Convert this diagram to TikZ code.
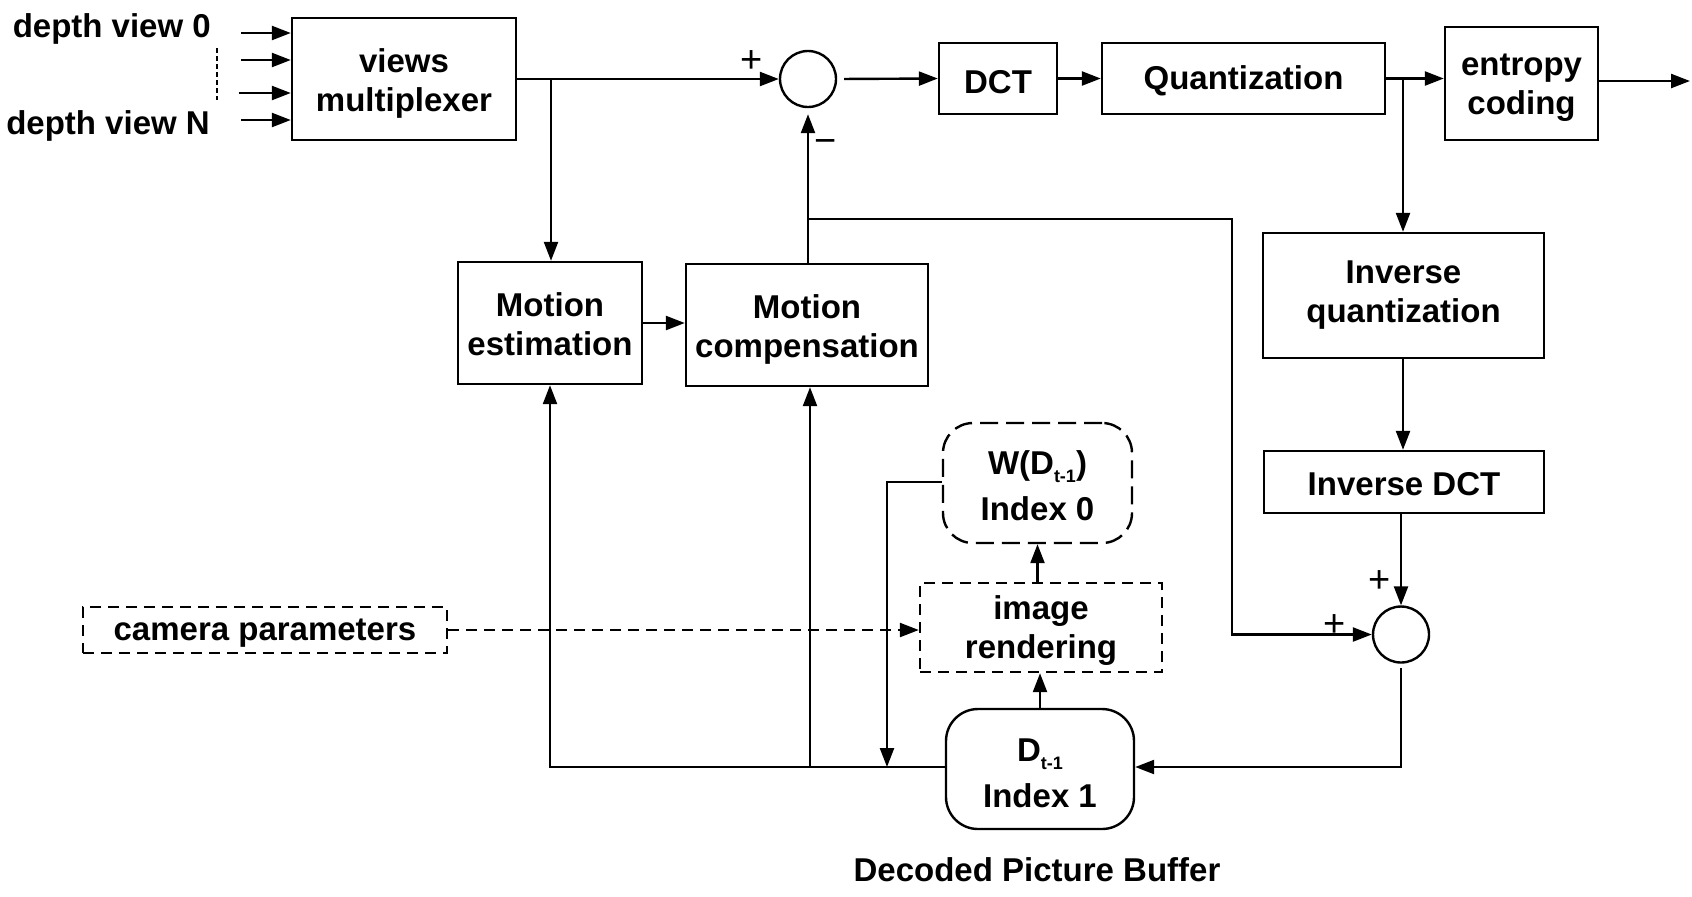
\documentclass[tikz,border=0pt]{standalone}
\usepackage{fontspec}
\setmainfont{Liberation Sans}
\usetikzlibrary{arrows.meta}
\begin{document}
\begin{tikzpicture}[x=0.5pt,y=-0.5pt,line width=1.2pt,
  every node/.style={font=\fontsize{16.5}{19.5}\selectfont\bfseries},
  blk/.style={draw,rectangle,inner sep=0pt},
  tx/.style={align=center,inner sep=0pt},
  sumc/.style={draw,circle,minimum size=28pt,inner sep=0pt},
  sgn/.style={font=\fontsize{19}{19}\selectfont,inner sep=0pt},
  arr/.style={-{Triangle[length=9.5pt,width=7pt]}},
  dashA/.style={dash pattern=on 5.5pt off 3.5pt},
  dashB/.style={dash pattern=on 9pt off 4pt}]
\newcommand\btext[3]{\node[tx] (#1t) at ([yshift=-#2]#1.center) {#3};}
\newcommand\subt{\raisebox{-4pt}{\fontsize{9}{9}\selectfont t-1}}
\useasboundingbox (0,0) rectangle (1692,896);
% blocks
\node[blk,minimum width=112pt,minimum height=61pt] (mux) at (404,79) {};
\node[sumc] (s1) at (808,79) {};
\node[blk,minimum width=59pt,minimum height=35.5pt] (dct) at (998,78.5) {};
\node[blk,minimum width=141.5pt,minimum height=35.5pt] (q) at (1243.5,78.5) {};
\node[blk,minimum width=76.5pt,minimum height=56.5pt] (ent) at (1521.5,83.5) {};
\node[blk,minimum width=140.5pt,minimum height=62.5pt] (iq) at (1403.5,295.5) {};
\node[blk,minimum width=140pt,minimum height=31pt] (idct) at (1404,482) {};
\node[sumc] (s2) at (1401,634.5) {};
\node[blk,minimum width=92pt,minimum height=61pt] (me) at (550,323) {};
\node[blk,minimum width=121pt,minimum height=61pt] (mc) at (807,325) {};
\node[blk,dashB,rounded corners=15pt,minimum width=94.5pt,minimum height=60pt] (w) at (1037.5,483) {};
\node[blk,dashA,minimum width=121pt,minimum height=44.5pt] (ir) at (1041,627.5) {};
\node[blk,rounded corners=16pt,minimum width=94pt,minimum height=60pt] (db) at (1040,769) {};
\node[blk,dashA,minimum width=182pt,minimum height=23pt] (cam) at (265,630) {};
% block texts
\btext{mux}{2.4pt}{views\\multiplexer}
\btext{dct}{1.6pt}{DCT}
\btext{q}{1.2pt}{Quantization}
\btext{ent}{2.2pt}{entropy\\coding}
\btext{iq}{0pt}{Inverse\\quantization}
\btext{idct}{1.3pt}{Inverse DCT}
\btext{me}{0.5pt}{Motion\\estimation}
\btext{mc}{2.1pt}{Motion\\compensation}
\btext{w}{1.5pt}{W(D\subt)\\[3.5pt]Index 0}
\btext{ir}{1.3pt}{image\\rendering}
\btext{db}{2pt}{D\subt\\[3.5pt]Index 1}
\btext{cam}{1.5pt}{camera parameters}
% free texts
\node[anchor=base east,inner sep=0pt] (dv0) at (212,37) {depth view 0};
\node[anchor=base east,inner sep=0pt] (dvn) at (211,134) {depth view N};
\node[anchor=base,inner sep=0pt] (dpb) at (1037,881) {Decoded Picture Buffer};
\node[sgn] (p1) at (752,62) {+};
\node[sgn] (m1) at (826,146) {−};
\node[sgn] (p2) at (1380,582) {+};
\node[sgn] (p3) at (1335,626) {+};
% inputs
\coordinate (i1) at (241,33);
\coordinate (i2) at (241,60);
\coordinate (i3) at (239,93);
\coordinate (i4) at (241,120);
\foreach \i in {i1,i2,i3,i4} \draw[arr] (\i) -- (\i -| mux.west);
\draw[dash pattern=on 2.5pt off 1.5pt] (217,48) -- (217,100);
% forward path
\coordinate (j1) at (551,79);
\draw[arr] (mux.east) -- (s1.west);
\draw[arr] (j1) -- (j1 |- me.north);
\draw[arr,shorten <=3.5pt] (s1.east) -- (dct.west);
\draw[arr] (dct.east) -- (q.west);
\draw[arr] (q.east) -- (q.east -| ent.west);
\coordinate (out) at (1690,81);
\draw[arr] (ent.east |- out) -- (out);
\coordinate (j2) at (1403,79);
\draw[arr] (j2) -- (j2 |- iq.north);
\draw[arr] (iq.south -| j2) -- (idct.north -| j2);
\draw[arr] (idct.south -| s2.north) -- (s2.north);
\draw[arr] (me.east) -- (me.east -| mc.west);
\draw[arr,shorten >=3pt] (s1.south |- mc.north) -- (s1.south);
% feedback
\coordinate (j3) at (808,219);
\coordinate (c1) at (1232,219);
\draw[arr] (j3) -- (c1) |- (s2.west);
\coordinate (c2) at (1401,767);
\draw[arr,shorten <=2pt] (s2.south) -- (c2) -- (c2 -| db.east);
\coordinate (c3) at (550,767);
\draw[arr] (db.west |- c3) -- (c3) -- (me.south);
\coordinate (j4) at (810,767);
\draw[arr] (j4) -- (j4 |- mc.south);
\coordinate (c4) at (887,482);
\draw[arr] (w.west |- c4) -- (c4) -- (c4 |- c3);
\draw[arr] (w.south |- ir.north) -- (w.south);
\draw[arr] (db.north) -- (db.north |- ir.south);
\draw[arr,dashA] (cam.east) -- (cam.east -| ir.west);
\end{tikzpicture}
\end{document}
